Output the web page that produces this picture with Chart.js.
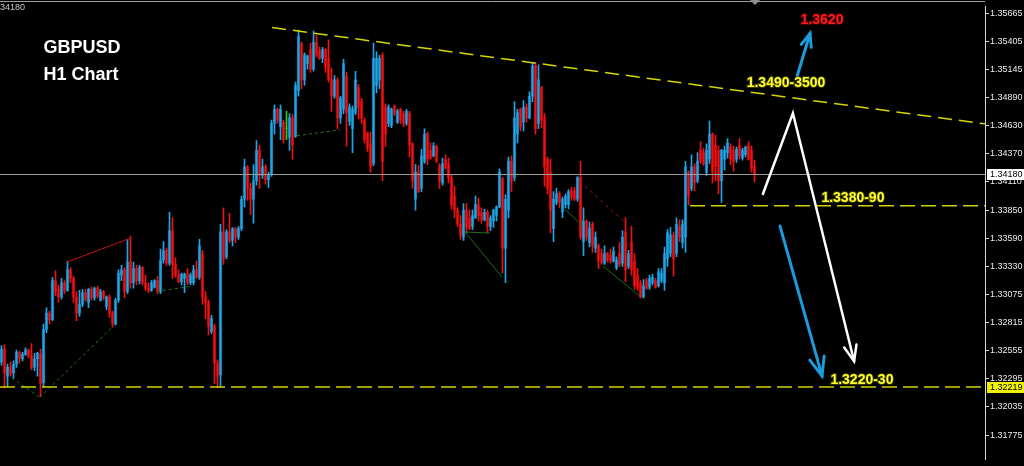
<!DOCTYPE html>
<html><head><meta charset="utf-8">
<script src="https://cdn.jsdelivr.net/npm/chart.js@4/dist/chart.umd.min.js"></script>
<style>html,body{margin:0;padding:0;background:#000;overflow:hidden}canvas{display:block}</style>
</head><body>
<canvas id="c" width="1024" height="466"></canvas>
<script>
const symbol = 'GBPUSD';
const timeframe = 'H1 Chart';
// hourly candles: [open, high, low, close]
const candles = [
[1.3245,1.3260,1.3242,1.3257],[1.3257,1.3261,1.3221,1.3235],[1.3232,1.3243,1.3222,1.3240],[1.3240,1.3245,1.3232,1.3234],
[1.3235,1.3246,1.3230,1.3243],[1.3243,1.3256,1.3240,1.3254],[1.3254,1.3255,1.3244,1.3248],[1.3248,1.3254,1.3246,1.3252],
[1.3252,1.3258,1.3251,1.3256],[1.3256,1.3257,1.3249,1.3251],[1.3251,1.3262,1.3238,1.3240],[1.3240,1.3253,1.3237,1.3248],
[1.3248,1.3254,1.3232,1.3253],[1.3252,1.3257,1.3213,1.3225],[1.3226,1.3280,1.3222,1.3275],[1.3275,1.3295,1.3272,1.3290],
[1.3290,1.3292,1.3280,1.3284],[1.3284,1.3323,1.3283,1.3320],[1.3320,1.3329,1.3306,1.3310],[1.3312,1.3316,1.3300,1.3305],
[1.3305,1.3322,1.3303,1.3318],[1.3318,1.3320,1.3308,1.3311],[1.3311,1.3338,1.3310,1.3330],[1.3330,1.3332,1.3318,1.3322],
[1.3322,1.3324,1.3300,1.3305],[1.3305,1.3310,1.3283,1.3290],[1.3290,1.3311,1.3287,1.3298],[1.3298,1.3312,1.3296,1.3309],
[1.3309,1.3312,1.3301,1.3303],[1.3300,1.3313,1.3295,1.3312],[1.3312,1.3314,1.3302,1.3304],[1.3304,1.3314,1.3302,1.3313],
[1.3313,1.3315,1.3304,1.3306],[1.3302,1.3312,1.3301,1.3310],[1.3310,1.3311,1.3302,1.3304],[1.3296,1.3306,1.3293,1.3305],
[1.3305,1.3307,1.3286,1.3290],[1.3290,1.3292,1.3277,1.3280],[1.3280,1.3304,1.3279,1.3302],[1.3302,1.3330,1.3300,1.3327],
[1.3325,1.3334,1.3320,1.3330],[1.3330,1.3332,1.3304,1.3310],[1.3310,1.3358,1.3308,1.3337],[1.3337,1.3361,1.3313,1.3318],
[1.3318,1.3337,1.3313,1.3331],[1.3331,1.3334,1.3316,1.3320],[1.3320,1.3334,1.3317,1.3332],[1.3332,1.3333,1.3316,1.3318],
[1.3318,1.3325,1.3311,1.3313],[1.3313,1.3318,1.3309,1.3311],[1.3311,1.3320,1.3310,1.3318],[1.3314,1.3321,1.3313,1.3320],
[1.3320,1.3324,1.3308,1.3310],[1.3310,1.3349,1.3308,1.3339],[1.3339,1.3356,1.3336,1.3348],[1.3348,1.3350,1.3334,1.3336],
[1.3336,1.3383,1.3334,1.3366],[1.3366,1.3378,1.3322,1.3335],[1.3335,1.3341,1.3323,1.3325],[1.3325,1.3330,1.3318,1.3319],
[1.3319,1.3327,1.3316,1.3326],[1.3322,1.3327,1.3309,1.3326],[1.3326,1.3331,1.3316,1.3318],[1.3318,1.3327,1.3316,1.3325],
[1.3318,1.3334,1.3316,1.3330],[1.3330,1.3338,1.3322,1.3323],[1.3323,1.3358,1.3321,1.3352],[1.3345,1.3348,1.3298,1.3305],
[1.3305,1.3310,1.3285,1.3300],[1.3300,1.3302,1.3270,1.3278],[1.3273,1.3288,1.3271,1.3285],[1.3278,1.3280,1.3225,1.3244],
[1.3244,1.3247,1.3221,1.3232],[1.3233,1.3372,1.3222,1.3365],[1.3365,1.3387,1.3335,1.3340],[1.3342,1.3367,1.3340,1.3365],
[1.3365,1.3382,1.3355,1.3357],[1.3357,1.3369,1.3352,1.3368],[1.3368,1.3369,1.3355,1.3360],[1.3360,1.3370,1.3358,1.3368],
[1.3368,1.3398,1.3366,1.3395],[1.3395,1.3432,1.3388,1.3425],[1.3425,1.3426,1.3394,1.3405],[1.3405,1.3410,1.3381,1.3395],
[1.3395,1.3427,1.3373,1.3412],[1.3412,1.3449,1.3408,1.3440],[1.3440,1.3445,1.3405,1.3417],[1.3417,1.3432,1.3414,1.3425],
[1.3425,1.3427,1.3409,1.3413],[1.3413,1.3420,1.3406,1.3418],[1.3418,1.3468,1.3416,1.3465],[1.3465,1.3482,1.3455,1.3478],
[1.3478,1.3479,1.3465,1.3468],[1.3462,1.3482,1.3450,1.3478],[1.3466,1.3468,1.3447,1.3450],[1.3460,1.3476,1.3450,1.3460],
[1.3452,1.3474,1.3440,1.3470],[1.3470,1.3473,1.3432,1.3445],[1.3453,1.3503,1.3452,1.3500],[1.3495,1.3551,1.3490,1.3545],
[1.3538,1.3540,1.3497,1.3505],[1.3505,1.3530,1.3500,1.3528],[1.3520,1.3528,1.3515,1.3527],[1.3533,1.3539,1.3512,1.3515],
[1.3515,1.3550,1.3513,1.3540],[1.3540,1.3546,1.3526,1.3528],[1.3532,1.3535,1.3524,1.3525],[1.3525,1.3535,1.3521,1.3533],
[1.3533,1.3534,1.3512,1.3518],[1.3525,1.3542,1.3503,1.3505],[1.3505,1.3516,1.3476,1.3490],[1.3490,1.3509,1.3488,1.3505],
[1.3505,1.3507,1.3460,1.3470],[1.3470,1.3490,1.3465,1.3488],[1.3478,1.3524,1.3474,1.3520],[1.3508,1.3512,1.3444,1.3475],
[1.3467,1.3483,1.3463,1.3480],[1.3460,1.3481,1.3438,1.3478],[1.3475,1.3513,1.3473,1.3505],[1.3498,1.3501,1.3469,1.3480],
[1.3485,1.3488,1.3465,1.3470],[1.3468,1.3470,1.3447,1.3450],[1.3456,1.3457,1.3439,1.3442],[1.3446,1.3457,1.3420,1.3425],
[1.3428,1.3539,1.3426,1.3525],[1.3500,1.3531,1.3493,1.3525],[1.3505,1.3528,1.3497,1.3525],[1.3528,1.3530,1.3412,1.3430],
[1.3480,1.3483,1.3444,1.3455],[1.3465,1.3482,1.3462,1.3480],[1.3463,1.3479,1.3461,1.3478],[1.3481,1.3482,1.3472,1.3474],
[1.3466,1.3478,1.3465,1.3476],[1.3478,1.3479,1.3465,1.3468],[1.3474,1.3476,1.3462,1.3465],[1.3465,1.3478,1.3463,1.3476],
[1.3474,1.3476,1.3434,1.3445],[1.3446,1.3447,1.3405,1.3412],[1.3395,1.3427,1.3385,1.3420],[1.3420,1.3426,1.3401,1.3402],
[1.3405,1.3441,1.3402,1.3435],[1.3430,1.3460,1.3428,1.3455],[1.3455,1.3457,1.3427,1.3432],[1.3440,1.3447,1.3432,1.3433],
[1.3435,1.3447,1.3434,1.3444],[1.3444,1.3445,1.3429,1.3430],[1.3426,1.3428,1.3405,1.3412],[1.3410,1.3433,1.3408,1.3428],
[1.3432,1.3436,1.3423,1.3424],[1.3428,1.3433,1.3410,1.3415],[1.3415,1.3418,1.3386,1.3390],[1.3398,1.3407,1.3378,1.3385],
[1.3385,1.3387,1.3370,1.3372],[1.3372,1.3380,1.3358,1.3362],[1.3360,1.3391,1.3357,1.3385],[1.3385,1.3391,1.3364,1.3370],
[1.3378,1.3385,1.3367,1.3368],[1.3370,1.3385,1.3367,1.3380],[1.3378,1.3398,1.3377,1.3390],[1.3390,1.3396,1.3375,1.3380],
[1.3383,1.3387,1.3373,1.3376],[1.3376,1.3386,1.3375,1.3383],[1.3383,1.3385,1.3364,1.3370],[1.3370,1.3380,1.3366,1.3378],
[1.3375,1.3386,1.3369,1.3385],[1.3380,1.3389,1.3375,1.3388],[1.3388,1.3423,1.3387,1.3420],[1.3414,1.3415,1.3327,1.3350],
[1.3350,1.3399,1.3318,1.3395],[1.3385,1.3434,1.3378,1.3430],[1.3430,1.3435,1.3402,1.3412],[1.3415,1.3485,1.3412,1.3470],
[1.3455,1.3478,1.3447,1.3475],[1.3478,1.3479,1.3458,1.3462],[1.3466,1.3486,1.3458,1.3480],[1.3480,1.3483,1.3466,1.3470],
[1.3470,1.3494,1.3469,1.3490],[1.3490,1.3521,1.3485,1.3518],[1.3518,1.3521,1.3455,1.3460],[1.3465,1.3519,1.3460,1.3505],
[1.3498,1.3499,1.3461,1.3468],[1.3470,1.3474,1.3407,1.3425],[1.3432,1.3434,1.3400,1.3405],[1.3420,1.3432,1.3364,1.3385],
[1.3368,1.3402,1.3356,1.3395],[1.3392,1.3405,1.3390,1.3400],[1.3400,1.3402,1.3387,1.3392],[1.3383,1.3397,1.3378,1.3395],
[1.3390,1.3400,1.3387,1.3398],[1.3390,1.3404,1.3386,1.3402],[1.3403,1.3406,1.3394,1.3397],[1.3403,1.3406,1.3394,1.3395],
[1.3395,1.3416,1.3393,1.3415],[1.3415,1.3430,1.3358,1.3360],[1.3356,1.3387,1.3343,1.3375],[1.3375,1.3376,1.3357,1.3360],
[1.3355,1.3374,1.3351,1.3368],[1.3372,1.3374,1.3346,1.3352],[1.3350,1.3365,1.3346,1.3360],[1.3352,1.3354,1.3331,1.3338],
[1.3345,1.3349,1.3335,1.3337],[1.3336,1.3352,1.3335,1.3345],[1.3345,1.3346,1.3337,1.3339],[1.3343,1.3349,1.3336,1.3338],
[1.3338,1.3351,1.3337,1.3347],[1.3332,1.3342,1.3330,1.3339],[1.3345,1.3355,1.3333,1.3335],[1.3336,1.3366,1.3333,1.3360],
[1.3365,1.3378,1.3319,1.3330],[1.3333,1.3348,1.3331,1.3345],[1.3355,1.3370,1.3325,1.3330],[1.3338,1.3345,1.3312,1.3315],
[1.3325,1.3331,1.3311,1.3313],[1.3318,1.3320,1.3304,1.3305],[1.3305,1.3321,1.3304,1.3315],[1.3320,1.3322,1.3312,1.3313],
[1.3314,1.3325,1.3312,1.3322],[1.3318,1.3326,1.3316,1.3323],[1.3320,1.3322,1.3313,1.3314],[1.3315,1.3331,1.3314,1.3328],
[1.3320,1.3331,1.3318,1.3327],[1.3318,1.3351,1.3311,1.3345],[1.3340,1.3367,1.3333,1.3364],[1.3345,1.3369,1.3342,1.3362],
[1.3362,1.3365,1.3324,1.3340],[1.3345,1.3378,1.3342,1.3372],[1.3370,1.3376,1.3356,1.3360],[1.3355,1.3376,1.3350,1.3372],
[1.3360,1.3430,1.3346,1.3425],[1.3420,1.3421,1.3390,1.3398],[1.3405,1.3436,1.3403,1.3425],[1.3425,1.3428,1.3403,1.3410],
[1.3412,1.3438,1.3410,1.3430],[1.3440,1.3448,1.3428,1.3430],[1.3438,1.3442,1.3426,1.3428],[1.3420,1.3446,1.3417,1.3440],
[1.3432,1.3467,1.3428,1.3455],[1.3455,1.3456,1.3410,1.3420],[1.3445,1.3454,1.3412,1.3425],[1.3440,1.3444,1.3400,1.3412],
[1.3412,1.3441,1.3392,1.3440],[1.3432,1.3444,1.3422,1.3440],[1.3438,1.3451,1.3433,1.3447],[1.3443,1.3446,1.3427,1.3432],
[1.3440,1.3444,1.3421,1.3430],[1.3432,1.3443,1.3429,1.3441],[1.3445,1.3451,1.3432,1.3435],[1.3433,1.3442,1.3431,1.3440],
[1.3436,1.3444,1.3434,1.3443],[1.3445,1.3448,1.3431,1.3432],[1.3440,1.3444,1.3420,1.3424],[1.3425,1.3431,1.3411,1.3418]
];
const priceTicks = [1.35665,1.35405,1.35145,1.34890,1.34630,1.34370,1.34110,1.33850,1.33590,1.33330,1.33075,1.32815,1.32555,1.32295,1.32035,1.31775];
const bidPrice = 1.34180;
const supportLevel = 1.32219;
const pivotLevel = 1.33890;
const priceMin = 1.31550, priceMax = 1.35728;
// annotations in [bar index, price]
const trendLine = [[90.2,1.35533],[327.83,1.34645]];
const greenDashed = [[[3.5,1.32303],[12.8,1.32124]],[[12.8,1.32124],[37.2,1.32778]],[[51.8,1.33101],[62.8,1.33146]],[[98.5,1.34536],[112.8,1.34589]]];
const redSolid = [[[21.8,1.33370],[43.2,1.33594]]];
const greenSolid = [[[154.5,1.33648],[162.8,1.33639]],[[154.5,1.33648],[166.8,1.33235]],[[187.2,1.33872],[193.5,1.33711]],[[200.5,1.33334],[212.8,1.33056]]];
const redDashed = [[[192.8,1.34114],[207.8,1.33738]]];
const upArrow = [[265.2,1.35084],[269.5,1.35479]];
const whitePath = [[253.8,1.33999],[263.8,1.34743],[284.2,1.32456]];
const downArrow = [[259.5,1.33703],[273.5,1.32321]];
const labels = [
  {text:'1.3620', at:[273.5,1.35602], color:'#ff1c1c', edge:'rgba(90,0,0,0.8)', size:14},
  {text:'1.3490-3500', at:[261.5,1.35020], color:'#ffff2a', edge:'rgba(70,70,0,0.8)', size:14},
  {text:'1.3380-90', at:[283.8,1.33962], color:'#ffff2a', edge:'rgba(70,70,0,0.8)', size:14},
  {text:'1.3220-30', at:[286.8,1.32285], color:'#ffff2a', edge:'rgba(70,70,0,0.8)', size:14}
];

const BULL_W='#1ea6e8', BULL_B='#19709f', BEAR_W='#f01212', BEAR_B='#a30606', DOJI='#22d422';
function col(i, wick){
  const c=candles[i]; if(!c) return BULL_W;
  if(c[0]===c[3]) return DOJI;
  if(c[3]>c[0]) return wick?BULL_W:BULL_B;
  return wick?BEAR_W:BEAR_B;
}
const wickData = candles.map((c,i)=>({x:i,y:[c[2],c[1]]}));
const bodyData = candles.map((c,i)=>({x:i,y:[c[0],c[3]]}));

const overlay = {
  id:'overlay',
  beforeDraw(chart){const g=chart.ctx; g.save(); g.fillStyle='#000'; g.fillRect(0,0,chart.width,chart.height); g.restore();},
  afterDatasetsDraw(chart){
    const g=chart.ctx, xs=chart.scales.x, ys=chart.scales.y, a=chart.chartArea;
    const P=p=>[xs.getPixelForValue(p[0]), ys.getPixelForValue(p[1])];
    g.save();
    g.beginPath(); g.rect(a.left,a.top,a.right-a.left,a.bottom-a.top); g.clip();
    function seg(s,color,w,dash){g.beginPath();g.strokeStyle=color;g.lineWidth=w;g.setLineDash(dash||[]);const p0=P(s[0]),p1=P(s[1]);g.moveTo(p0[0],p0[1]);g.lineTo(p1[0],p1[1]);g.stroke();}
    greenDashed.forEach(s=>seg(s,'#1d7a1d',1,[3,3]));
    greenSolid.forEach(s=>seg(s,'#1d6e1d',1));
    redSolid.forEach(s=>seg(s,'#c41010',1));
    redDashed.forEach(s=>seg(s,'#b01010',1,[3,4]));
    // bid line
    const yb=Math.round(ys.getPixelForValue(bidPrice))+0.5;
    g.setLineDash([]); g.strokeStyle='#9c9c9c'; g.lineWidth=1; g.beginPath(); g.moveTo(a.left,yb); g.lineTo(a.right,yb); g.stroke();
    // horizontal levels
    g.strokeStyle='#d2d200'; g.lineWidth=1.6; g.setLineDash([15,6]);
    const ys1=ys.getPixelForValue(supportLevel); g.beginPath(); g.moveTo(a.left,ys1); g.lineTo(a.right,ys1); g.stroke();
    const ys2=ys.getPixelForValue(pivotLevel), xp=xs.getPixelForValue(229.5); g.beginPath(); g.moveTo(xp,ys2); g.lineTo(a.right,ys2); g.stroke();
    // trend line
    seg(trendLine,'#d6d600',1.5,[14,7]);
    g.setLineDash([]);
    function arrow(pts,color,w,head){
      g.strokeStyle=color; g.lineWidth=w; g.lineCap='round'; g.lineJoin='miter';
      const q=pts.map(P); g.beginPath(); g.moveTo(q[0][0],q[0][1]); for(let k=1;k<q.length;k++) g.lineTo(q[k][0],q[k][1]); g.stroke();
      const t=q[q.length-1], f=q[q.length-2]; const ang=Math.atan2(f[1]-t[1],f[0]-t[0]);
      g.beginPath();
      g.moveTo(t[0]+head*Math.cos(ang+0.38), t[1]+head*Math.sin(ang+0.38)); g.lineTo(t[0],t[1]);
      g.lineTo(t[0]+head*Math.cos(ang-0.38), t[1]+head*Math.sin(ang-0.38)); g.stroke();
    }
    arrow(upArrow,'#1b9cdc',3,14);
    arrow(whitePath,'#ffffff',2.5,17);
    arrow(downArrow,'#1b9cdc',3,20);
    // labels
    g.textAlign='center'; g.textBaseline='middle';
    labels.forEach(l=>{const p=P(l.at); g.font='bold '+l.size+'px "Liberation Sans", Arial, sans-serif';
      g.lineWidth=2; g.strokeStyle=l.edge; g.strokeText(l.text,p[0],p[1]); g.fillStyle=l.color; g.fillText(l.text,p[0],p[1]);});
    g.restore();
  },
  afterDraw(chart){
    const g=chart.ctx, ys=chart.scales.y, a=chart.chartArea;
    g.save();
    // title
    g.fillStyle='#fff'; g.textAlign='center'; g.textBaseline='alphabetic';
    g.font='bold 18px "Liberation Sans", Arial, sans-serif';
    g.fillText(symbol,82,53); g.fillText(timeframe,81,80);
    // top frame line and shift marker
    g.strokeStyle='#a0a0a0'; g.lineWidth=1; g.beginPath(); g.moveTo(0,1.5); g.lineTo(a.right,1.5); g.stroke();
    g.fillStyle='#8e8e8e'; g.beginPath(); g.moveTo(750,0); g.lineTo(760,0); g.lineTo(755,5); g.closePath(); g.fill();
    g.font='9px "Liberation Sans", Arial, sans-serif'; g.textAlign='left'; g.textBaseline='middle'; g.fillStyle='#c8c8c8';
    g.fillText(bidPrice.toFixed(5).slice(2),0,8);
    // price boxes
    function box(v,bg){const y=ys.getPixelForValue(v); g.fillStyle=bg; g.fillRect(a.right+2,Math.round(y)-5,1024-a.right-2,11);
      g.fillStyle='#000'; g.font='9px "Liberation Sans", Arial, sans-serif'; g.textAlign='left'; g.fillText(v.toFixed(5),a.right+5,Math.round(y)+0.5);}
    box(bidPrice,'#ffffff'); box(supportLevel,'#f2f200');
    g.restore();
  }
};

new Chart(document.getElementById('c'),{
  type:'bar',
  data:{datasets:[
    {data:wickData, backgroundColor:ctx=>col(ctx.dataIndex,true), barThickness:1, grouped:false, order:0},
    {data:bodyData, backgroundColor:ctx=>col(ctx.dataIndex,false), barThickness:2.5, grouped:false, order:1}
  ]},
  options:{
    responsive:false, animation:false, devicePixelRatio:1,
    layout:{padding:0},
    plugins:{legend:{display:false},tooltip:{enabled:false}},
    scales:{
      x:{type:'linear', display:false, min:-0.5, max:327.83, offset:false},
      y:{position:'right', min:priceMin, max:priceMax,
        afterBuildTicks:s=>{s.ticks=priceTicks.map(v=>({value:v}));},
        afterFit:s=>{s.width=39;},
        grid:{drawOnChartArea:false, tickLength:4, color:'#d8d8d8'},
        border:{display:true,color:'#d8d8d8'},
        ticks:{autoSkip:false, padding:1, color:'#ececec', font:{family:'"Liberation Sans", Arial', size:9}, callback:v=>Number(v).toFixed(5)}
      }
    }
  },
  plugins:[overlay]
});
</script>
</body></html>
